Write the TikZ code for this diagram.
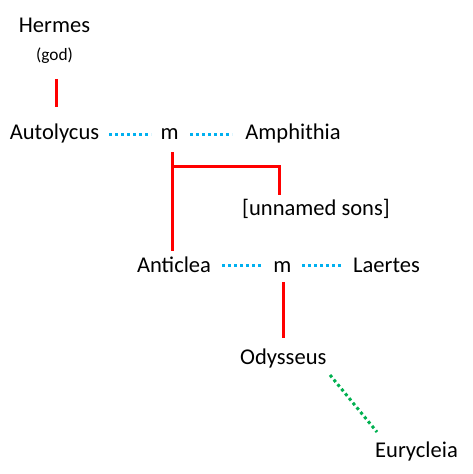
\documentclass[tikz,border=0pt]{standalone}
\usepackage{fontspec}
\setmainfont{Carlito}
\definecolor{famred}{RGB}{255,0,0}
\definecolor{famblue}{RGB}{0,176,240}
\definecolor{famgreen}{RGB}{0,176,80}
\tikzset{
  person/.style={anchor=base, inner sep=0pt, font=\fontsize{16.9}{20}\selectfont},
  small/.style={anchor=base, inner sep=0pt, font=\fontsize{13}{15}\selectfont},
  descent/.style={draw=famred, line width=2.25pt},
  marriage/.style={draw=famblue, line width=2.25pt, dash pattern=on 2.25pt off 2.25pt},
  nurse/.style={draw=famgreen, line width=2.25pt, dash pattern=on 2.25pt off 2.25pt}
}
\begin{document}
\begin{tikzpicture}[x=0.75pt, y=-0.75pt]
\useasboundingbox (0,0) rectangle (472,474);
% names
\node[person] (hermes) at (54.5,32.5) {Hermes};
\node[small] (god) at (54.5,61) {(god)};
\node[person] (autolycus) at (54.5,139.3) {Autolycus};
\node[person] (m1) at (169.5,139.3) {m};
\node[person] (amphithia) at (293,139.3) {Amphithia};
\node[person] (sons) at (316,215) {[unnamed sons]};
\node[person] (anticlea) at (174,272.7) {Anticlea};
\node[person] (m2) at (282.3,272.5) {m};
\node[person] (laertes) at (386.5,272.7) {Laertes};
\node[person] (odysseus) at (283.3,364.3) {Odysseus};
\node[person] (eurycleia) at (416.5,457.7) {Eurycleia};
% connector ends
\coordinate (hA) at (56.5,79);
\coordinate (hB) at (56.5,107.5);
\coordinate (b1a) at (109,135);
\coordinate (b1b) at (151,135);
\coordinate (b2a) at (190,135);
\coordinate (b2b) at (232,135);
\coordinate (m1d) at (172.7,152.3);
\coordinate (antu) at (172.7,250.7);
\coordinate (jA) at (172.7,166.7);
\coordinate (jB) at (279.3,166.7);
\coordinate (sonsu) at (279.3,195);
\coordinate (b3a) at (222.3,265.7);
\coordinate (b3b) at (263,265.7);
\coordinate (b4a) at (302.3,265.7);
\coordinate (b4b) at (344,265.7);
\coordinate (m2d) at (283.3,282.3);
\coordinate (odyu) at (283.3,338.3);
\coordinate (gA) at (330,375);
\coordinate (gB) at (377,432);
% connectors
\draw[descent] (hA) -- (hB);
\draw[marriage] (b1a) -- (b1b);
\draw[marriage] (b2a) -- (b2b);
\draw[descent] (m1d) -- (antu);
\draw[descent] (jA) -- (jB) -- (sonsu);
\draw[marriage] (b3a) -- (b3b);
\draw[marriage] (b4a) -- (b4b);
\draw[descent] (m2d) -- (odyu);
\draw[nurse] (gA) -- (gB);
\end{tikzpicture}
\end{document}
